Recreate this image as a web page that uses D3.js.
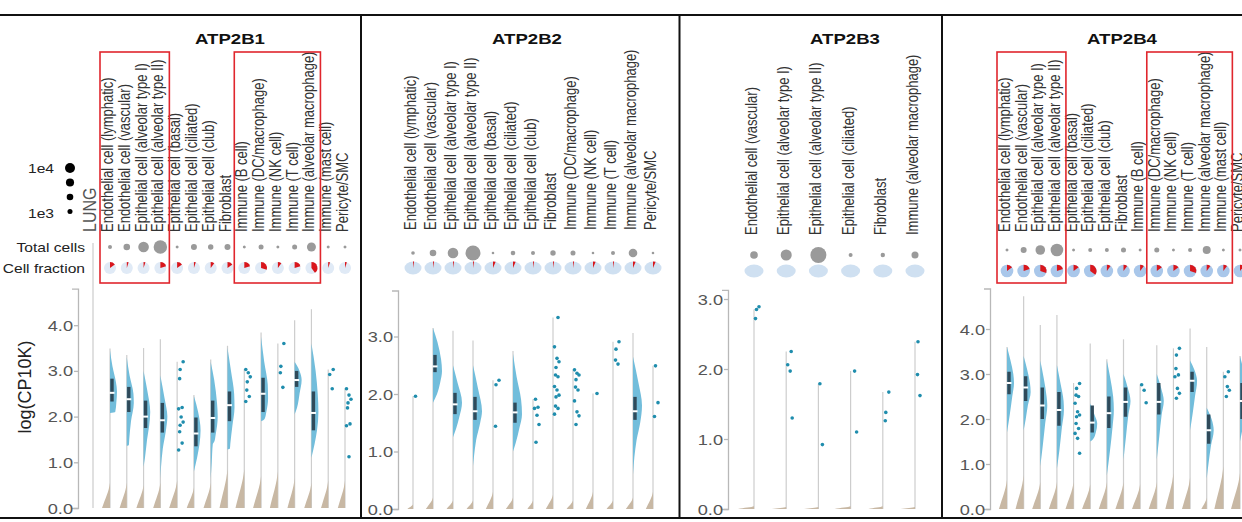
<!DOCTYPE html>
<html>
<head>
<meta charset="utf-8">
<script src="https://cdn.jsdelivr.net/npm/d3@7.9.0/dist/d3.min.js"></script>
<style>
  body { margin: 0; background: #fff; }
  svg { display: block; font-family: "Liberation Sans", Arial, sans-serif; }
</style>
</head>
<body>
<svg id="chart" width="1242" height="522"></svg>
<script>
// ---- data ----
// total = cells in the cell type, frac = cell fraction expressing the gene,
// top = max log(CP10K), zero = [height, rel. width] of the zero-count density,
// shape = [value, rel. density] of the non-zero half violin, box = [q1, median, q3]
const ATP2B1 = [
  { cell: 'Endothelial cell (lymphatic)', total: 470, frac: 0.15, top: 3.49, zero: [0.55, 1],
    shape: [[3.45,0],[3.1,0.35],[2.75,0.85],[2.55,1],[2.3,0.9],[2.1,0.75],[2.08,0]], box: [2.33,2.52,2.83] },
  { cell: 'Endothelial cell (vascular)', total: 2500, frac: 0.05, top: 3.35, zero: [0.55, 0.9],
    shape: [[3.3,0],[2.9,0.4],[2.5,0.95],[2.3,1],[1.9,0.6],[1.5,0.35],[1.38,0.3],[1.36,0]], box: [2.1,2.38,2.65] },
  { cell: 'Epithelial cell (alveolar type I)', total: 12100, frac: 0.05, top: 3.5, zero: [0.5, 0.9],
    shape: [[3.0,0],[2.6,0.5],[2.1,0.95],[1.8,0.8],[1.5,0.5],[1.1,0.2],[0.9,0]], box: [1.75,2.0,2.35] },
  { cell: 'Epithelial cell (alveolar type II)', total: 27000, frac: 0.2, top: 3.69, zero: [0.55, 0.9],
    shape: [[2.9,0],[2.4,0.6],[2.0,1],[1.7,0.8],[1.3,0.35],[0.9,0.1],[0.65,0]], box: [1.65,1.92,2.3] },
  { cell: 'Epithelial cell (basal)', total: 180, frac: 0.15, top: 3.2, zero: [0.6, 1],
    dots: [3.2,3.03,2.83,2.2,2.17,1.99,1.88,1.81,1.67,1.42,1.27] },
  { cell: 'Epithelial cell (ciliated)', total: 1820, frac: 0.05, top: 2.47, zero: [0.45, 0.9],
    shape: [[2.45,0],[2.1,0.6],[1.7,0.95],[1.4,0.8],[1.1,0.45],[0.8,0]], box: [1.35,1.63,1.98] },
  { cell: 'Epithelial cell (club)', total: 1290, frac: 0.1, top: 3.25, zero: [0.55, 0.9],
    shape: [[3.2,0],[2.8,0.5],[2.3,0.9],[2.0,1],[1.6,0.7],[1.45,0.5],[1.4,0.3],[1.0,0.15],[0.65,0]], box: [1.65,1.97,2.35] },
  { cell: 'Fibroblast', total: 1820, frac: 0.15, top: 3.55, zero: [0.85, 1],
    shape: [[3.5,0],[3.0,0.5],[2.5,0.95],[2.2,1],[1.8,0.7],[1.4,0.4],[1.3,0.35],[1.28,0]], box: [1.9,2.25,2.55] },
  { cell: 'Immune (B cell)', total: 180, frac: 0.2, top: 3.03, zero: [0.85, 1.1],
    dots: [3.03,2.96,2.87,2.76,2.58,2.44,2.33] },
  { cell: 'Immune (DC/macrophage)', total: 1000, frac: 0.3, top: 3.84, zero: [0.7, 1],
    shape: [[3.75,0],[3.2,0.45],[2.7,0.95],[2.4,1],[2.1,0.75],[1.95,0.5],[1.9,0]], box: [2.1,2.5,2.85] },
  { cell: 'Immune (NK cell)', total: 180, frac: 0.1, top: 3.6, zero: [0.8, 1],
    dots: [3.6,3.1,2.96,2.64] },
  { cell: 'Immune (T cell)', total: 1000, frac: 0.2, top: 4.11, zero: [0.65, 0.9],
    shape: [[3.2,0],[3.0,0.7],[2.8,1],[2.5,0.7],[2.2,0.35],[2.05,0]], box: [2.65,2.8,3.0] },
  { cell: 'Immune (alveolar macrophage)', total: 7000, frac: 0.4, top: 4.35, zero: [0.55, 0.9],
    shape: [[3.6,0],[3.0,0.6],[2.5,0.9],[2.1,1],[1.7,0.8],[1.4,0.45],[1.1,0]], box: [1.7,2.08,2.55] },
  { cell: 'Immune (mast cell)', total: 180, frac: 0.05, top: 3.03, zero: [0.6, 0.9],
    dots: [3.03,2.92,2.61] },
  { cell: 'Pericyte/SMC', total: 180, frac: 0.05, top: 2.61, zero: [0.6, 0.9],
    dots: [2.61,2.47,2.38,2.3,2.19,1.84,1.8,1.12] }
];

const ATP2B2 = [
  { cell: 'Endothelial cell (lymphatic)', total: 330, frac: 0.02, top: 1.96, zero: [0.08, 0.7], dots: [1.96] },
  { cell: 'Endothelial cell (vascular)', total: 2500, frac: 0.02, top: 3.15, zero: [0.2, 0.9],
    shape: [[3.15,0],[2.9,0.5],[2.6,0.9],[2.4,1],[2.2,0.8],[2.0,0.45],[1.85,0]], box: [2.38,2.48,2.68] },
  { cell: 'Epithelial cell (alveolar type I)', total: 12100, frac: 0.02, top: 3.1, zero: [0.15, 0.8],
    shape: [[2.5,0],[2.2,0.5],[1.85,1],[1.6,0.7],[1.4,0.35],[1.25,0]], box: [1.65,1.82,2.02] },
  { cell: 'Epithelial cell (alveolar type II)', total: 38600, frac: 0.02, top: 2.93, zero: [0.15, 0.8],
    shape: [[2.5,0],[2.1,0.55],[1.7,1],[1.5,0.8],[1.2,0.35],[0.9,0.1],[0.75,0]], box: [1.55,1.7,1.95] },
  { cell: 'Epithelial cell (basal)', total: 110, frac: 0.05, top: 2.24, zero: [0.3, 0.9], dots: [2.24,2.16,1.44] },
  { cell: 'Epithelial cell (ciliated)', total: 750, frac: 0.05, top: 2.75, zero: [0.2, 0.9],
    shape: [[2.7,0],[2.3,0.4],[1.9,0.9],[1.65,1],[1.4,0.7],[1.15,0.3],[1.0,0]], box: [1.5,1.68,1.85] },
  { cell: 'Epithelial cell (club)', total: 470, frac: 0.02, top: 1.91, zero: [0.15, 0.7],
    dots: [1.91,1.77,1.75,1.63,1.47,1.16] },
  { cell: 'Fibroblast', total: 1290, frac: 0.02, top: 3.33, zero: [0.25, 0.9],
    dots: [3.33,2.82,2.62,2.56,2.46,2.33,2.3,2.13,2.07,1.98,1.95,1.79,1.75,1.65] },
  { cell: 'Immune (DC/macrophage)', total: 1000, frac: 0.02, top: 2.42, zero: [0.15, 0.8],
    dots: [2.42,2.36,2.33,2.25,2.12,2.07,1.88,1.69,1.62,1.47] },
  { cell: 'Immune (NK cell)', total: 110, frac: 0.05, top: 2.01, zero: [0.3, 0.9], dots: [2.01] },
  { cell: 'Immune (T cell)', total: 470, frac: 0.02, top: 2.91, zero: [0.15, 0.8], dots: [2.91,2.78,2.59,2.52] },
  { cell: 'Immune (alveolar macrophage)', total: 6050, frac: 0.05, top: 3.06, zero: [0.2, 0.9],
    shape: [[2.65,0],[2.2,0.6],[1.8,1],[1.5,0.8],[1.2,0.4],[0.9,0.15],[0.6,0]], box: [1.55,1.7,1.95] },
  { cell: 'Pericyte/SMC', total: 110, frac: 0.05, top: 2.49, zero: [0.3, 0.9], dots: [2.49,1.85,1.61] }
];

const ATP2B3 = [
  { cell: 'Endothelial cell (vascular)', total: 4100, frac: 0, top: 2.85, zero: [0.04, 1], dots: [2.85,2.89,2.72] },
  { cell: 'Epithelial cell (alveolar type I)', total: 14000, frac: 0, top: 2.25, zero: [0.03, 0.9], dots: [2.25,2.06,1.97,1.3] },
  { cell: 'Epithelial cell (alveolar type II)', total: 47800, frac: 0, top: 1.79, zero: [0.03, 0.9], dots: [1.79,0.92] },
  { cell: 'Epithelial cell (ciliated)', total: 470, frac: 0, top: 1.97, zero: [0.04, 1], dots: [1.97,1.1] },
  { cell: 'Fibroblast', total: 650, frac: 0, top: 1.67, zero: [0.04, 0.9], dots: [1.67,1.38,1.26] },
  { cell: 'Immune (alveolar macrophage)', total: 3050, frac: 0, top: 2.39, zero: [0.03, 0.9], dots: [2.39,1.92,1.62] }
];

const ATP2B4 = [
  { cell: 'Endothelial cell (lymphatic)', total: 180, frac: 0.15, top: 3.6, zero: [0.65, 0.9],
    shape: [[3.6,0],[3.3,0.5],[3.0,0.9],[2.8,1],[2.5,0.75],[2.1,0.4],[1.7,0]], box: [2.55,2.8,3.05] },
  { cell: 'Endothelial cell (vascular)', total: 1820, frac: 0.2, top: 4.73, zero: [0.75, 0.9],
    shape: [[3.4,0],[3.1,0.5],[2.8,0.9],[2.6,1],[2.3,0.6],[2.0,0.3],[1.75,0]], box: [2.4,2.7,2.95] },
  { cell: 'Epithelial cell (alveolar type I)', total: 8700, frac: 0.3, top: 4.09, zero: [0.6, 0.9],
    shape: [[3.3,0],[2.9,0.5],[2.5,0.9],[2.3,1],[1.9,0.7],[1.4,0.35],[0.95,0]], box: [2.0,2.3,2.7] },
  { cell: 'Epithelial cell (alveolar type II)', total: 21600, frac: 0.2, top: 4.31, zero: [0.6, 0.9],
    shape: [[3.2,0],[2.8,0.5],[2.4,0.95],[2.2,1],[1.8,0.7],[1.3,0.35],[0.9,0]], box: [1.85,2.2,2.6] },
  { cell: 'Epithelial cell (basal)', total: 180, frac: 0.15, top: 2.8, zero: [0.6, 0.9],
    dots: [2.79,2.68,2.53,2.5,2.35,2.16,2.09,2.05,1.9,1.79,1.68,1.57,1.24] },
  { cell: 'Epithelial cell (ciliated)', total: 470, frac: 0.35, top: 3.68, zero: [0.55, 0.9],
    shape: [[2.35,0],[2.1,0.6],[1.9,1],[1.7,0.8],[1.55,0.4],[1.5,0]], box: [1.7,1.92,2.3] },
  { cell: 'Epithelial cell (club)', total: 470, frac: 0.1, top: 3.33, zero: [0.6, 0.9],
    shape: [[3.3,0],[2.9,0.5],[2.5,0.9],[2.2,1],[1.8,0.8],[1.3,0.45],[0.75,0]], box: [1.8,2.13,2.5] },
  { cell: 'Fibroblast', total: 1000, frac: 0.1, top: 3.77, zero: [0.6, 0.9],
    shape: [[3.0,0],[2.7,0.6],[2.4,1],[2.1,0.7],[1.6,0.35],[1.1,0]], box: [2.05,2.38,2.7] },
  { cell: 'Immune (B cell)', total: 180, frac: 0.1, top: 2.76, zero: [0.55, 0.9], dots: [2.76,2.64,2.36] },
  { cell: 'Immune (DC/macrophage)', total: 1000, frac: 0.15, top: 3.64, zero: [0.6, 0.9],
    shape: [[3.0,0],[2.7,0.6],[2.4,1],[2.1,0.7],[1.6,0.35],[1.1,0]], box: [2.1,2.38,2.8] },
  { cell: 'Immune (NK cell)', total: 180, frac: 0.15, top: 3.57, zero: [0.8, 0.9],
    dots: [3.57,3.42,3.12,2.98,2.94,2.68,2.57,2.46] },
  { cell: 'Immune (T cell)', total: 470, frac: 0.3, top: 4.01, zero: [0.7, 0.9],
    shape: [[3.3,0],[3.1,0.6],[2.85,1],[2.5,0.7],[2.1,0.35],[1.75,0]], box: [2.6,2.85,3.05] },
  { cell: 'Immune (alveolar macrophage)', total: 4750, frac: 0.1, top: 3.6, zero: [0.25, 0.6],
    shape: [[2.25,0],[2.0,0.7],[1.75,1],[1.4,0.6],[1.0,0.25],[0.68,0]], box: [1.45,1.75,2.1] },
  { cell: 'Immune (mast cell)', total: 180, frac: 0.1, top: 3.05, zero: [0.95, 1], dots: [3.05,2.94,2.72,2.64,2.5] },
  { cell: 'Pericyte/SMC', total: 180, frac: 0.1, top: 3.4, zero: [0.8, 1],
    shape: [[3.4,0],[3.0,0.6],[2.5,1],[2.0,0.6],[1.5,0]], box: [2.0,2.4,2.8] }
];

// highlighted column groups (index ranges) in red boxes
const ATP2B1_boxes = [[0, 3], [8, 12]];
const ATP2B4_boxes = [[0, 3], [9, 13]];

// size legend values
const legendSizes = [1e4, 5000, 2500, 1e3];
const legendLabels = ['1e4', '1e3'];

// ---- layout ----
const panels = [
  { gene: 'ATP2B1', rows: ATP2B1, boxes: ATP2B1_boxes, titleX: 230, xRange: [110, 345], axisX: 78,
    yMax: 4.8, y0: 508, unit: 45.7, ticks: [0, 1, 2, 3, 4], labelY: 232, totalY: 247, fracY: 268,
    violinW: 7, zeroW: 8, pie: { base: '#e0eaf6', rx: 6, ry: 6 } },
  { gene: 'ATP2B2', rows: ATP2B2, boxes: [], titleX: 527, xRange: [413, 653], axisX: 398,
    yMax: 3.8, y0: 509, unit: 57.5, ticks: [0, 1, 2, 3], labelY: 230, totalY: 253, fracY: 268,
    violinW: 9, zeroW: 8, pie: { base: '#cfe0f1', rx: 8.5, ry: 6.5 } },
  { gene: 'ATP2B3', rows: ATP2B3, boxes: [], titleX: 845, xRange: [754, 915], axisX: 728,
    yMax: 3.13, y0: 509, unit: 70, ticks: [0, 1, 2, 3], labelY: 235, totalY: 255, fracY: 271,
    violinW: 9, zeroW: 16, pie: { base: '#cfe0f1', rx: 9.5, ry: 6.5 } },
  { gene: 'ATP2B4', rows: ATP2B4, boxes: ATP2B4_boxes, titleX: 1122, xRange: [1007, 1240], axisX: 990,
    yMax: 4.9, y0: 509, unit: 45, ticks: [0, 1, 2, 3, 4], labelY: 232, totalY: 250, fracY: 271,
    violinW: 7, zeroW: 9, pie: { base: '#a9c7ea', rx: 6.3, ry: 6.3 } }
];

const svg = d3.select('#chart');
const sx = 1.2; // the figure's text is slightly wide
const rScale = d3.scalePow().exponent(0.3).domain([0, 1e4]).range([0, 5]);
const jit = [2.5, 5, 1.5, 4, 6, 3];
const zeroProfile = [[0, 1], [0.25, 0.72], [0.5, 0.42], [0.75, 0.16], [1, 0]];

function place(sel, x, y, rotate) {
  return sel.attr('transform', `translate(${x},${y}) scale(${sx},1)` + (rotate ? ' rotate(-90)' : ''));
}

// frame
const frame = svg.append('g').attr('stroke', '#111').attr('stroke-width', 2);
frame.append('line').attr('x1', 0).attr('x2', 1242).attr('y1', 15).attr('y2', 15);
frame.append('line').attr('x1', 0).attr('x2', 1242).attr('y1', 518).attr('y2', 518);
[361, 679.5, 942].forEach(x => frame.append('line').attr('x1', x).attr('x2', x).attr('y1', 15).attr('y2', 518));

panels.forEach(p => {
  const g = svg.append('g');
  const x = d3.scalePoint().domain(p.rows.map(d => d.cell)).range(p.xRange);
  const y = d3.scaleLinear().domain([0, p.yMax]).range([p.y0, p.y0 - p.yMax * p.unit]);

  // title
  place(g.append('text'), p.titleX, 44, false)
    .attr('text-anchor', 'middle').attr('font-weight', 'bold').attr('font-size', 15.5)
    .attr('fill', '#111').text(p.gene);

  // column labels
  g.selectAll('text.cell').data(p.rows).join('text').attr('class', 'cell')
    .attr('font-size', 13).attr('fill', '#333')
    .each(function (d) { place(d3.select(this), x(d.cell) + 3, p.labelY, true); })
    .text(d => d.cell);

  // total cells
  g.selectAll('circle.total').data(p.rows).join('circle').attr('class', 'total')
    .attr('cx', d => x(d.cell)).attr('cy', p.totalY)
    .attr('r', d => rScale(d.total)).attr('fill', '#9a9a9a');

  // cell fraction pies
  const arc = d3.arc().innerRadius(0).outerRadius(p.pie.ry);
  const pies = g.selectAll('g.pie').data(p.rows).join('g').attr('class', 'pie')
    .attr('transform', d => `translate(${x(d.cell)},${p.fracY}) scale(${p.pie.rx / p.pie.ry},1)`);
  pies.append('circle').attr('r', p.pie.ry).attr('fill', p.pie.base);
  pies.filter(d => d.frac > 0).append('path')
    .attr('d', d => arc({ startAngle: 0, endAngle: d.frac * 2 * Math.PI }))
    .attr('fill', '#d9161c');

  // y axis
  const axis = d3.axisLeft(y).tickValues(p.ticks).tickFormat(d3.format('.1f')).tickSize(4).tickSizeOuter(6);
  const ag = g.append('g').attr('transform', `translate(${p.axisX},0)`).call(axis)
    .attr('font-family', '"Liberation Sans", Arial, sans-serif');
  ag.select('.domain').attr('stroke', '#b8b8b8').attr('stroke-width', 1.3);
  ag.selectAll('.tick line').attr('stroke', '#b8b8b8').attr('stroke-width', 1.3);
  ag.selectAll('.tick text').attr('x', null).attr('dy', null)
    .attr('font-size', 14).attr('fill', '#555')
    .attr('transform', 'translate(-5,5) scale(1.3,1)');

  // violins
  p.rows.forEach((d, i) => {
    const cx = x(d.cell);
    const vg = g.append('g');
    vg.append('line').attr('x1', cx).attr('x2', cx).attr('y1', y(0)).attr('y2', y(d.top))
      .attr('stroke', '#cdcdcd').attr('stroke-width', 1.2);

    // zero counts (left half)
    const zArea = d3.area().curve(d3.curveMonotoneY)
      .y(t => y(t[0] * d.zero[0])).x0(cx).x1(t => cx - t[1] * d.zero[1] * p.zeroW);
    vg.append('path').attr('d', zArea(zeroProfile)).attr('fill', '#c8b8a4');

    if (d.shape) {
      const vArea = d3.area().curve(d3.curveMonotoneY)
        .y(t => y(t[0])).x0(cx).x1(t => cx + t[1] * p.violinW);
      vg.append('path').attr('d', vArea(d.shape)).attr('fill', '#72bddb');
      vg.append('rect').attr('x', cx + 0.3).attr('width', 3.4)
        .attr('y', y(d.box[2])).attr('height', y(d.box[0]) - y(d.box[2]))
        .attr('fill', '#2f4a5a');
      vg.append('rect').attr('x', cx - 0.5).attr('width', 5)
        .attr('y', y(d.box[1]) - 1).attr('height', 2).attr('fill', '#fff');
    }
    if (d.dots) {
      vg.selectAll('circle').data(d.dots).join('circle')
        .attr('cx', (v, k) => cx + jit[(k + i) % jit.length])
        .attr('cy', v => y(v)).attr('r', 1.8).attr('fill', '#1f8dad');
    }
  });

  // highlight boxes
  p.boxes.forEach(([a, b]) => {
    const x0 = x(p.rows[a].cell) - 10, x1 = x(p.rows[b].cell) + 9;
    g.append('rect').attr('x', x0).attr('y', 52).attr('width', x1 - x0).attr('height', 231)
      .attr('fill', 'none').attr('stroke', '#e0262d').attr('stroke-width', 1.6);
  });
});

// left legend / row labels
const lg = svg.append('g');
legendSizes.forEach((v, i) => {
  lg.append('circle').attr('cx', 70).attr('cy', 168 + i * 14.5).attr('r', rScale(v)).attr('fill', '#000');
});
place(lg.append('text'), 28, 173, false).attr('font-size', 13).attr('fill', '#222').text(legendLabels[0]);
place(lg.append('text'), 28, 218, false).attr('font-size', 13).attr('fill', '#222').text(legendLabels[1]);
place(lg.append('text'), 96, 232, true).attr('font-size', 16).attr('fill', '#555').text('LUNG');
place(lg.append('text'), 85, 252, false).attr('font-size', 13).attr('text-anchor', 'end').attr('fill', '#222').text('Total cells');
place(lg.append('text'), 85, 273, false).attr('font-size', 13).attr('text-anchor', 'end').attr('fill', '#222').text('Cell fraction');
lg.append('line').attr('x1', 93).attr('x2', 93).attr('y1', 243).attr('y2', 508)
  .attr('stroke', '#cfcfcf').attr('stroke-width', 1.3);
lg.append('text').attr('transform', 'translate(31,387) rotate(-90)')
  .attr('text-anchor', 'middle').attr('font-size', 18).attr('fill', '#222').text('log(CP10K)');
</script>
</body>
</html>
